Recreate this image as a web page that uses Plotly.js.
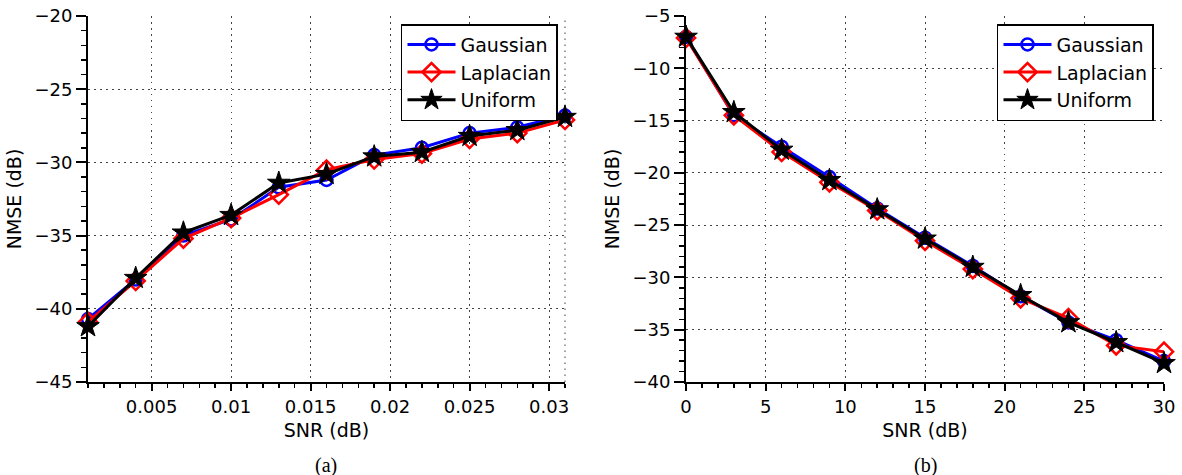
<!DOCTYPE html>
<html>
<head>
<meta charset="utf-8">
<script src="https://cdn.plot.ly/plotly-3.0.1.min.js"></script>
<style>html,body{margin:0;padding:0;background:#fff;}#chart{width:1182px;height:475px;}</style>
</head>
<body>
<div id="chart"></div>
<script>
// ---- Data ----
const snrA = [0.001, 0.004, 0.007, 0.010, 0.013, 0.016, 0.019, 0.022, 0.025, 0.028, 0.031];
const gaussA = [-40.7, -38.0, -35.0, -33.9, -31.7, -31.2, -29.5, -29.0, -28.0, -27.6, -26.8];
const laplA  = [-40.9, -38.1, -35.2, -33.8, -32.2, -30.5, -29.8, -29.4, -28.4, -28.0, -27.1];
const unifA  = [-41.2, -37.9, -34.8, -33.6, -31.4, -30.8, -29.6, -29.3, -28.2, -27.8, -26.9];

const snrB = [0, 3, 6, 9, 12, 15, 18, 21, 24, 27, 30];
const gaussB = [-7.0, -14.5, -17.5, -20.4, -23.4, -26.2, -28.9, -31.8, -34.3, -36.0, -38.0];
const laplB  = [-7.1, -14.5, -18.0, -20.9, -23.6, -26.5, -29.2, -32.0, -33.9, -36.5, -37.1];
const unifB  = [-7.0, -14.2, -17.8, -20.7, -23.5, -26.3, -29.0, -31.7, -34.3, -36.2, -38.2];

const seriesNames = ['Gaussian', 'Laplacian', 'Uniform'];
const xTitle = 'SNR (dB)';
const yTitle = 'NMSE (dB)';
const panelLabels = ['(a)', '(b)'];

// ---- Styles ----
const styles = [
  {color: '#0000ff', symbol: 'circle-open', size: 12, lw: 2.5},
  {color: '#ff0000', symbol: 'diamond-open', size: 14, lw: 2.5},
  {color: '#000000', symbol: 'star', size: 17, lw: 1}
];

function mk(x, y, i, xa, ya, leg) {
  const s = styles[i];
  return {
    x: x, y: y, name: seriesNames[i], type: 'scatter', mode: 'lines+markers',
    xaxis: xa, yaxis: ya, legend: leg, cliponaxis: false,
    line: {color: s.color, width: 3},
    marker: {symbol: s.symbol, size: s.size, color: s.color, line: {color: s.color, width: s.lw}}
  };
}

const traces = [
  mk(snrA, gaussA, 0, 'x', 'y', 'legend'),
  mk(snrA, laplA, 1, 'x', 'y', 'legend'),
  mk(snrA, unifA, 2, 'x', 'y', 'legend'),
  mk(snrB, gaussB, 0, 'x2', 'y2', 'legend2'),
  mk(snrB, laplB, 1, 'x2', 'y2', 'legend2'),
  mk(snrB, unifB, 2, 'x2', 'y2', 'legend2')
];

const FONT = 'DejaVu Sans, Liberation Sans, Arial, sans-serif';
const gridDash = '1.5px,4.5px';
const gridColor = '#444';

function xAxis(range, dtick, minorDtick, domain, anchor) {
  return {
    domain: domain, anchor: anchor, range: range,
    tickmode: 'linear', tick0: 0, dtick: dtick,
    ticks: 'outside', ticklen: 7, tickwidth: 2, tickcolor: '#000',
    showline: true, linewidth: 2, linecolor: '#000', zeroline: false,
    showgrid: true, gridcolor: gridColor, griddash: gridDash, gridwidth: 1,
    minor: {ticks: 'outside', ticklen: 4, tickwidth: 1.5, tickcolor: '#000', dtick: minorDtick, tick0: 0, showgrid: false},
    tickfont: {family: FONT, size: 18, color: '#000'},
    title: {text: xTitle, font: {family: FONT, size: 19, color: '#000'}, standoff: 8},
    fixedrange: true
  };
}
function yAxis(range, domain, anchor) {
  return {
    domain: domain, anchor: anchor, range: range,
    tickmode: 'linear', tick0: 0, dtick: 5,
    ticks: 'outside', ticklen: 10, tickwidth: 2, tickcolor: '#000',
    showline: true, linewidth: 2, linecolor: '#000', zeroline: false,
    showgrid: true, gridcolor: gridColor, griddash: gridDash, gridwidth: 1,
    minor: {ticks: 'outside', ticklen: 5, tickwidth: 1.5, tickcolor: '#000', dtick: 1, tick0: 0, showgrid: false},
    tickfont: {family: FONT, size: 18, color: '#000'},
    title: {text: yTitle, font: {family: FONT, size: 19, color: '#000'}, standoff: 8},
    fixedrange: true
  };
}

const legendCommon = {
  yanchor: 'top', xanchor: 'right', y: 0.978,
  bgcolor: '#fff', bordercolor: '#000', borderwidth: 1.5,
  font: {family: FONT, size: 19, color: '#000'},
  itemwidth: 48, tracegroupgap: 0
};

const layout = {
  width: 1182, height: 475,
  margin: {l: 88, r: 18, t: 16, b: 93},
  paper_bgcolor: '#fff', plot_bgcolor: '#fff',
  showlegend: true,
  xaxis: xAxis([snrA[0], snrA[snrA.length - 1]], 0.005, 0.001, [0, 0.4433], 'y'),
  yaxis: yAxis([-45, -20], [0, 1], 'x'),
  xaxis2: xAxis([snrB[0], snrB[snrB.length - 1]], 5, 1, [0.5558, 1], 'y2'),
  yaxis2: yAxis([-40, -5], [0, 1], 'x2'),
  legend: Object.assign({}, legendCommon, {x: 0.4368}),
  legend2: Object.assign({}, legendCommon, {x: 0.9907}),
  shapes: [
    {type: 'line', xref: 'x domain', yref: 'y domain', x0: 1, x1: 1, y0: 0, y1: 1,
     line: {color: gridColor, width: 1, dash: gridDash}, layer: 'below'}
  ],
  annotations: [
    {text: panelLabels[0], xref: 'x domain', yref: 'paper', x: 0.5, y: -0.227, yanchor: 'middle', showarrow: false,
     font: {family: 'Liberation Serif, Times New Roman, serif', size: 20, color: '#000'}},
    {text: panelLabels[1], xref: 'x2 domain', yref: 'paper', x: 0.5, y: -0.227, yanchor: 'middle', showarrow: false,
     font: {family: 'Liberation Serif, Times New Roman, serif', size: 20, color: '#000'}}
  ]
};

Plotly.newPlot('chart', traces, layout, {displayModeBar: false, staticPlot: true});
</script>
</body>
</html>
